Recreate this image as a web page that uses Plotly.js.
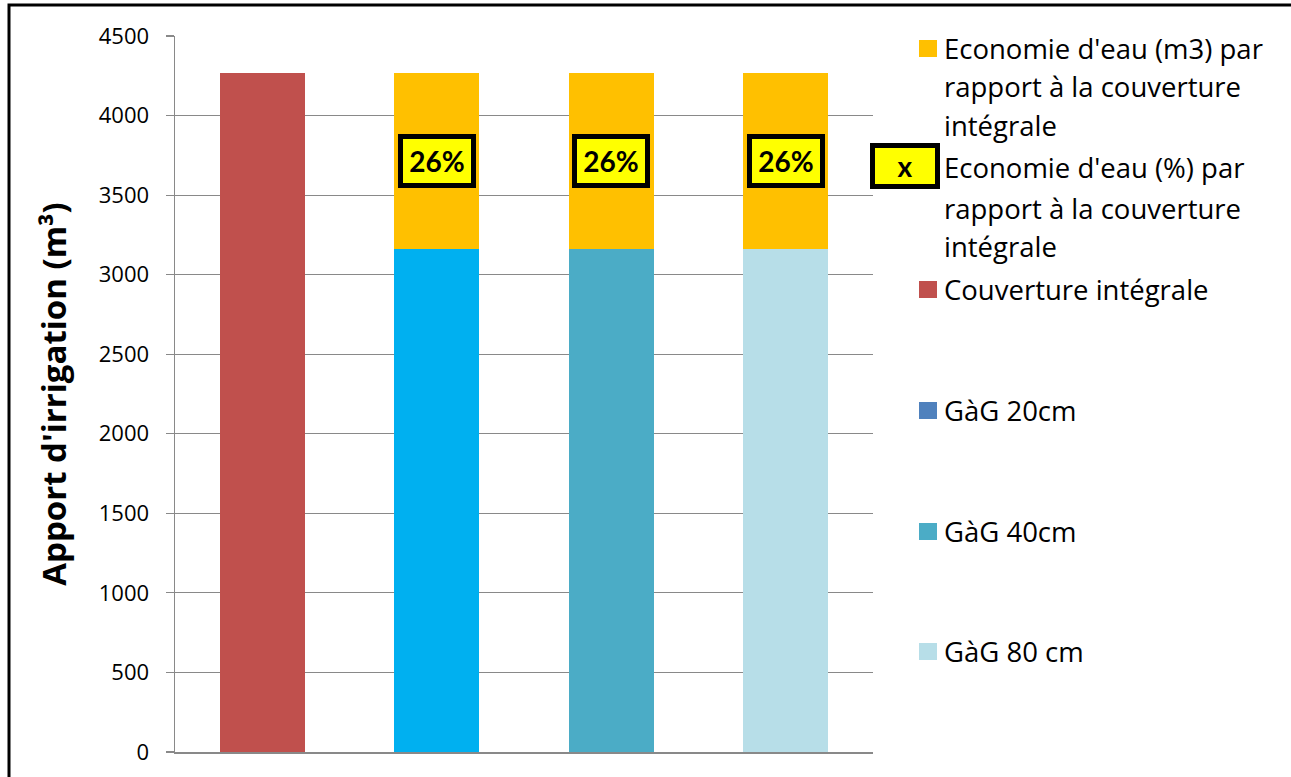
<!DOCTYPE html>
<html>
<head>
<meta charset="utf-8">
<script src="https://cdn.plot.ly/plotly-3.0.1.min.js"></script>
<style>
html,body{margin:0;padding:0;background:#fff;}
#chart{width:1291px;height:777px;}
</style>
</head>
<body>
<div id="chart"></div>
<script>
// ---- data ----
const categories = ['Couverture intégrale', 'GàG 20cm', 'GàG 40cm', 'GàG 80 cm'];
const couvertureValues = [4270, null, null, null];
const gag20Values = [null, 3160, null, null];
const gag40Values = [null, null, 3160, null];
const gag80Values = [null, null, null, 3160];
const economieM3 = [null, 1110, 1110, 1110];
const economiePct = [null, 26, 26, 26];
const yTickValues = [0, 500, 1000, 1500, 2000, 2500, 3000, 3500, 4000, 4500];

const legendNames = [
  ["Economie d'eau (m3) par", "rapport à la couverture", "intégrale"],
  ["Economie d'eau (%) par", "rapport à la couverture", "intégrale"],
  ["Couverture intégrale"],
  ["GàG 20cm"],
  ["GàG 40cm"],
  ["GàG 80 cm"]
];

// ---- styles ----
const FONT = '"Open Sans", "Noto Sans", sans-serif';
const LFONT = 'Lato, "Open Sans", sans-serif';
const colors = {
  eco: '#FFC000',
  couv: '#C0504D',
  gag20bar: '#00B0F0',
  gag20leg: '#4F81BD',
  gag40: '#4BACC6',
  gag80: '#B7DEE8'
};

const W = 1291, H = 777;
const M = {l: 175, r: W - 873, t: 36, b: H - 752};
const PW = W - M.l - M.r, PH = H - M.t - M.b;
const px = x => (x - M.l) / PW;
const py = y => (H - M.b - y) / PH;

const barCommon = {type: 'bar', x: categories, showlegend: false, hoverinfo: 'y+name', marker: {line: {width: 0}}};
const traces = [
  Object.assign({}, barCommon, {name: 'Couverture intégrale', y: couvertureValues, marker: {color: colors.couv}}),
  Object.assign({}, barCommon, {name: 'GàG 20cm', y: gag20Values, marker: {color: colors.gag20bar}}),
  Object.assign({}, barCommon, {name: 'GàG 40cm', y: gag40Values, marker: {color: colors.gag40}}),
  Object.assign({}, barCommon, {name: 'GàG 80 cm', y: gag80Values, marker: {color: colors.gag80}}),
  Object.assign({}, barCommon, {name: "Economie d'eau (m3) par rapport à la couverture intégrale", y: economieM3, marker: {color: colors.eco}})
];

// percentage labels, centered in the saving segment
const annotations = [];
categories.forEach((c, i) => {
  if (economiePct[i] == null) return;
  const base = [gag20Values, gag40Values, gag80Values].map(a => a[i]).find(v => v != null) || 0;
  annotations.push({
    x: c, y: base + economieM3[i] / 2, xref: 'x', yref: 'y',
    text: '<b>' + economiePct[i] + '%</b>', showarrow: false,
    font: {family: LFONT, size: 28, color: '#000'},
    bgcolor: '#FFFF00', bordercolor: '#000', borderwidth: 5, borderpad: 0,
    width: 68, height: 44, xanchor: 'center', yanchor: 'middle'
  });
});

// custom legend
const legendLineY = [[48, 87, 125], [168, 208, 246], [289], [410], [531], [651]];
const legendColors = [colors.eco, null, colors.couv, colors.gag20leg, colors.gag40, colors.gag80];
const shapes = [];
legendNames.forEach((lines, k) => {
  lines.forEach((t, j) => {
    annotations.push({
      xref: 'paper', yref: 'paper', x: px(942), y: py(legendLineY[k][j]),
      text: t, showarrow: false, xanchor: 'left', yanchor: 'middle',
      font: {family: FONT, size: 27.5, color: '#000'}
    });
  });
  const yc = legendLineY[k][0];
  if (legendColors[k]) {
    shapes.push({type: 'rect', xref: 'paper', yref: 'paper',
      x0: px(919), x1: px(937), y0: py(yc + 9), y1: py(yc - 8),
      fillcolor: legendColors[k], line: {width: 0}});
  } else {
    annotations.push({
      xref: 'paper', yref: 'paper', x: px(904.5), y: py(166),
      text: '<b>x</b>', showarrow: false, xanchor: 'center', yanchor: 'middle',
      font: {family: LFONT, size: 28, color: '#000'},
      bgcolor: '#FFFF00', bordercolor: '#000', borderwidth: 5, borderpad: 0,
      width: 60, height: 36
    });
  }
});

// outer chart border
shapes.push({type: 'rect', xref: 'paper', yref: 'paper', layer: 'above',
  x0: px(9), x1: px(1300), y0: py(790), y1: py(5),
  line: {color: '#000', width: 3}, fillcolor: 'rgba(0,0,0,0)'});

const layout = {
  width: W, height: H,
  margin: M,
  paper_bgcolor: '#fff', plot_bgcolor: '#fff',
  barmode: 'stack', bargap: 0.515,
  showlegend: false,
  font: {family: FONT, color: '#000'},
  xaxis: {
    type: 'category', range: [-0.5, 3.5], showticklabels: false, ticks: '',
    showgrid: false, zeroline: false, showline: true, linecolor: '#898989', linewidth: 1.5,
    fixedrange: true
  },
  yaxis: {
    range: [0, 4500], tickvals: yTickValues, ticktext: yTickValues.map(String),
    showgrid: true, gridcolor: '#898989', gridwidth: 1.2,
    zeroline: false, showline: true, linecolor: '#898989', linewidth: 1.5,
    ticks: 'outside', ticklen: 8, tickcolor: '#898989', tickwidth: 1.2,
    ticklabelstandoff: 12,
    tickfont: {family: FONT, size: 22, color: '#000'},
    title: {text: "<b>Apport d'irrigation (m³)</b>", font: {family: FONT, size: 33, color: '#000'}, standoff: 22},
    automargin: false, fixedrange: true
  },
  annotations: annotations,
  shapes: shapes
};

Plotly.newPlot('chart', traces, layout, {displayModeBar: false, staticPlot: true});
</script>
</body>
</html>
